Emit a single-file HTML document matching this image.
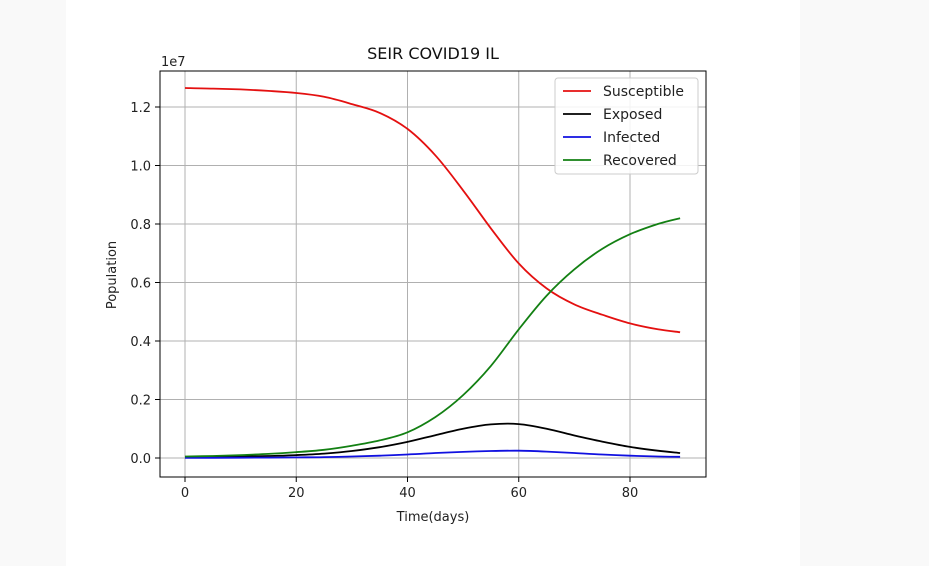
<!DOCTYPE html>
<html><head><meta charset="utf-8"><style>
html,body{margin:0;padding:0;width:929px;height:566px;overflow:hidden;background:#fff}
</style></head><body>
<svg id="c" width="929" height="566" xmlns="http://www.w3.org/2000/svg" font-family="'DejaVu Sans', 'Liberation Sans', sans-serif">
<rect x="0" y="0" width="929" height="566" fill="#fff"/>
<rect x="0" y="0" width="66" height="566" fill="#f9f9f9"/>
<rect x="800" y="0" width="129" height="566" fill="#f9f9f9"/>
<g id="grid"></g><g id="lines"></g><g id="axes"></g>
</svg>
<script>
const days=[0,5,10,15,20,25,30,35,40,45,50,55,60,65,70,75,80,85,89];
const susceptible=[1.265,1.263,1.26,1.255,1.248,1.235,1.21,1.18,1.125,1.035,0.915,0.785,0.665,0.58,0.525,0.49,0.46,0.44,0.43];
const exposed=[0.002,0.003,0.005,0.007,0.01,0.015,0.024,0.037,0.055,0.078,0.1,0.115,0.116,0.1,0.077,0.056,0.038,0.025,0.017];
const infected=[0.0005,0.0008,0.001,0.0015,0.002,0.003,0.005,0.008,0.012,0.017,0.021,0.024,0.025,0.022,0.017,0.012,0.008,0.005,0.004];
const recovered=[0.005,0.007,0.01,0.014,0.02,0.028,0.042,0.06,0.088,0.14,0.215,0.315,0.44,0.555,0.645,0.715,0.765,0.8,0.82];
const xTicks=[0,20,40,60,80];
const yTicks=[0,0.2,0.4,0.6,0.8,1.0,1.2];
const L=160,R=706,T=71,B=477;
const X=d=>185+d*(630-185)/80;
const Y=v=>458-v*(458-107)/1.2;
const ns="http://www.w3.org/2000/svg";
function mk(p,tag,a){const e=document.createElementNS(ns,tag);for(const k in a)e.setAttribute(k,a[k]);p.appendChild(e);return e;}
const grid=document.getElementById('grid'),lines=document.getElementById('lines'),axes=document.getElementById('axes');
xTicks.forEach(t=>{
 const g=mk(grid,'line',{x1:X(t),x2:X(t),y1:T,y2:B,stroke:'#b0b0b0','stroke-width':1});
 
 
 mk(axes,'line',{x1:X(t),x2:X(t),y1:B,y2:B+5,stroke:'#000'});
 const tx=mk(axes,'text',{x:X(t),y:B+20,'text-anchor':'middle','font-size':13,fill:'#222'});tx.textContent=t;
 
 
});
yTicks.forEach(t=>{
 const g=mk(grid,'line',{x1:L,x2:R,y1:Y(t),y2:Y(t),stroke:'#b0b0b0','stroke-width':1});
 
 
 mk(axes,'line',{x1:L-5,x2:L,y1:Y(t),y2:Y(t),stroke:'#000'});
 const tx=mk(axes,'text',{x:L-9,y:Y(t)+5,'text-anchor':'end','font-size':13,fill:'#222'});tx.textContent=t.toFixed(1);
 
 
});
function smooth(pts){
 let d='M'+pts[0][0].toFixed(1)+','+pts[0][1].toFixed(1);
 for(let i=0;i<pts.length-1;i++){
  const p0=pts[Math.max(0,i-1)],p1=pts[i],p2=pts[i+1],p3=pts[Math.min(pts.length-1,i+2)];
  const c1=[p1[0]+(p2[0]-p0[0])/6,p1[1]+(p2[1]-p0[1])/6];
  const c2=[p2[0]-(p3[0]-p1[0])/6,p2[1]-(p3[1]-p1[1])/6];
  d+=' C'+c1.map(v=>v.toFixed(1)).join(',')+' '+c2.map(v=>v.toFixed(1)).join(',')+' '+p2[0].toFixed(1)+','+p2[1].toFixed(1);
 }
 return d;
}
const series=[['susceptible',susceptible,'#e41010'],['exposed',exposed,'#000'],['infected',infected,'#1010e0'],['recovered',recovered,'#138013']];
series.forEach(([n,vals,c])=>{
 const pts=days.map((d,i)=>[X(d),Y(vals[i])]);
 const p=mk(lines,'path',{d:smooth(pts),fill:'none',stroke:c,'stroke-width':1.8,'stroke-linejoin':'round'});
 
 
});
const fr=mk(axes,'rect',{x:L,y:T,width:R-L,height:B-T,fill:'none',stroke:'#000','stroke-width':1});


function txt(s,a,name){const t=mk(axes,'text',a);t.textContent=s;return t;}
txt('SEIR COVID19 IL',{x:433,y:59,'text-anchor':'middle','font-size':16,fill:'#111'},'chart-title');
txt('1e7',{x:161,y:66,'font-size':13,fill:'#222'},'y-offset-label');
txt('Time(days)',{x:433,y:521,'text-anchor':'middle','font-size':13,fill:'#222'},'x-axis-title');
txt('Population',{x:116,y:275,'text-anchor':'middle','font-size':13,fill:'#222',transform:'rotate(-90 116 275)'},'y-axis-title');
const lg=mk(axes,'rect',{x:555,y:78,width:143,height:96,rx:3,fill:'#fff','fill-opacity':0.85,stroke:'#ccc'});


['Susceptible','Exposed','Infected','Recovered'].forEach((s,i)=>{
 const y=91+i*23;
 const l=mk(axes,'line',{x1:563,x2:591,y1:y,y2:y,stroke:series[i][2],'stroke-width':1.8});
 
 
 txt(s,{x:603,y:y+5,'font-size':14,fill:'#222'},'legend-entry');
});
</script>
</body></html>
